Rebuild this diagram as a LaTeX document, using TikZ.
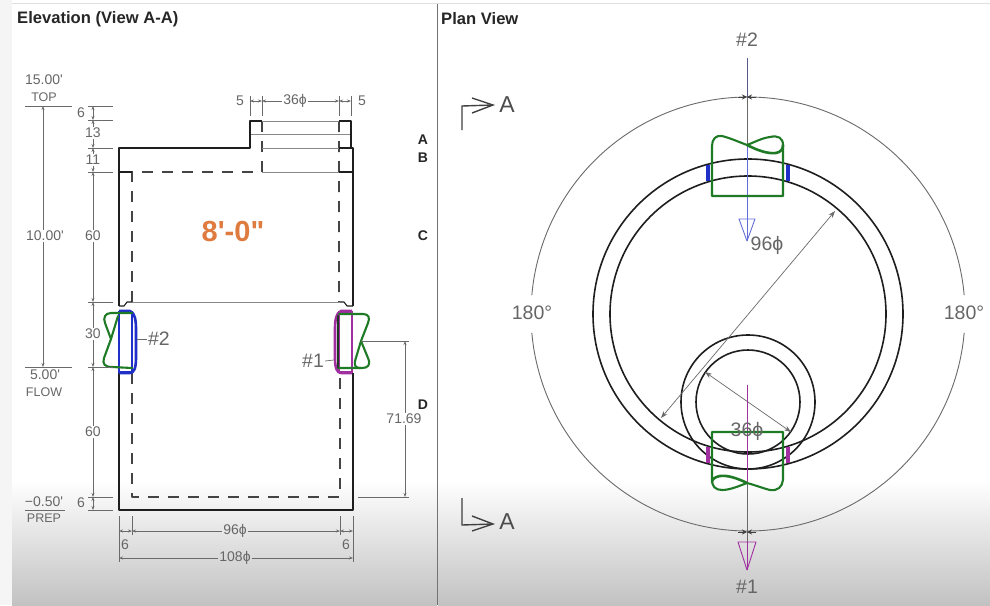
\documentclass[tikz,border=0pt]{standalone}
\usepackage{fontspec}
\setmainfont{Liberation Sans}
\newfontfamily\cadfont{Liberation Sans}
\newfontfamily\cadbold{Liberation Sans Bold}
\usetikzlibrary{arrows.meta}
\definecolor{dimc}{HTML}{6A6A6A}
\definecolor{txtc}{HTML}{666666}
\definecolor{wallc}{HTML}{1E1E1E}
\definecolor{hidc}{HTML}{444444}
\definecolor{strapc}{HTML}{1F7A26}
\definecolor{bluec}{HTML}{1F2FC8}
\definecolor{magc}{HTML}{A030A0}
\definecolor{orangec}{HTML}{DF7B3E}
\tikzset{
  x=1pt,y=-1pt,
  wall/.style={draw=wallc,line width=1.7pt,line join=round},
  hidden/.style={draw=hidc,line width=1.8pt,line join=round,dash pattern=on 11pt off 9pt},
  thin line/.style={draw=dimc!80,line width=.7pt},
  dimline/.style={draw=dimc,line width=.7pt},
  dimarrow/.style={dimline,{Stealth[length=4pt,width=3pt]}-{Stealth[length=4pt,width=3pt]}},
  endarrow/.style={dimline,-{Stealth[length=4pt,width=3pt]}},
  tick/.style={draw=dimc,line width=.8pt},
  strap/.style={draw=strapc,line width=2.1pt,line join=round,line cap=round},
  dimtext/.style={text=txtc,font=\cadfont\fontsize{14}{14}\selectfont,inner sep=1pt},
  smalltext/.style={text=txtc,font=\cadfont\fontsize{12.5}{12.5}\selectfont,inner sep=1pt},
  bigtext/.style={text=txtc,font=\cadfont\fontsize{19.5}{19.5}\selectfont,inner sep=1pt},
  title/.style={text=black!85,font=\bfseries\fontsize{16.6}{16.6}\selectfont,inner sep=0pt,anchor=west},
  sect/.style={text=black!85,font=\bfseries\fontsize{14}{14}\selectfont,inner sep=0pt},
  seclet/.style={font=\cadfont\fontsize{23}{23}\selectfont,text=black!70,inner sep=0pt},
  secmark/.style={draw=wallc!85,line width=1.4pt,line join=miter},
}
\begin{document}
\begin{tikzpicture}
\useasboundingbox (0,0) rectangle (990,605);
% paper and shaded bottom
\fill[white] (0,0) rectangle (990,605);
\fill[black!4] (0,0) rectangle (12,605);
\shade[top color=white,bottom color=black!24] (12,480) rectangle (437,605);
\shade[top color=white,bottom color=black!24] (438,480) rectangle (990,605);
\draw[draw=black!55,line width=1pt] (437.5,4) -- (437.5,605);
\draw[draw=black!12,line width=.6pt] (12,3) -- (990,3);

\node[title] (t1) at (17,19) {Elevation (View A-A)};
\node[title] (t2) at (441,19) {Plan View};

%% ===== Elevation =====
% hidden inner shell
\draw[hidden] (132,302) -- (132,172) -- (262,172) -- (262,121);
\draw[hidden] (339,121) -- (339.02,210) -- (339,302);
\draw[hidden] (132,373) -- (132,497) -- (340,497) -- (340,373);
% thin level lines
\draw[thin line] (262,121) -- (339,121);
\draw[thin line] (250,134) -- (351,134);
\draw[thin line] (262,148) -- (339,148);
\draw[thin line] (262,172) -- (339,172);
\draw[thin line] (132,302) -- (340,302);
% wall
\draw[wall] (119,306) -- (119,148) -- (250,148) -- (250,121) -- (262,121);
\draw[wall] (339,121) -- (351,121) -- (351,148) -- (353,148) -- (353,306);
\draw[wall] (119,373) -- (119,510) -- (353,510) -- (353,373);
\draw[wall,line width=1.2pt] (339,148) -- (351,148);
\draw[wall,line width=1.2pt] (339,172) -- (353,172) (119,172) -- (132,172);
% jogs
\draw[wall,line width=1.1pt] (119,306) -- (124,306) -- (127,302) -- (132,302);
\draw[wall,line width=1.1pt] (353,306) -- (347,306) -- (344,302) -- (340,302);

% pipe #2 left
\draw[bluec,line width=1.4pt] (119,312) rectangle (132,372);
\draw[bluec,line width=2.6pt,line join=round] (119,311) -- (130,311) .. controls (135,313) and (136,320) .. (136,330) -- (136,358) .. controls (136,368) and (134,373) .. (130,373) -- (119,373);
\draw[strap] (132,313) -- (111,313) .. controls (105,313) and (103,318) .. (105,323) -- (111,339) -- (118,316);
\draw[strap] (111,339) -- (104,358) .. controls (102,364) and (105,367) .. (112,367) -- (132,368);
% pipe #1 right
\draw[magc,line width=1.4pt] (339,312) rectangle (352,372);
\draw[magc,line width=2.6pt,line join=round] (352,311) -- (341,311) .. controls (336,313) and (335,320) .. (335,330) -- (335,358) .. controls (335,368) and (337,373) .. (341,373) -- (352,373);
\draw[strap,draw=wallc!70!strapc] (338,316) -- (338,368);
\draw[strap] (339,314) -- (363,314) .. controls (369,314) and (370,318) .. (368,323) -- (361,341) -- (355,361);
\draw[strap] (361,341) -- (368,358) .. controls (371,365) and (368,368) .. (362,368) -- (339,368);
\draw[strap] (355,361) .. controls (354,366) and (356,368) .. (360,368);

% left elevation dimensions
\node[dimtext] (l15) at (44,80) {15.00'};
\node[smalltext] (ltop) at (44,97) {TOP};
\node[dimtext] (l10) at (45,236) {10.00'};
\node[dimtext] (l5) at (45,375) {5.00'};
\node[smalltext] (lflow) at (44,392) {FLOW};
\node[dimtext] (lm) at (44,502) {−0.50'};
\node[smalltext] (lprep) at (44,518) {PREP};
\coordinate (topA) at (43,106);
\coordinate (flowA) at (43,367);
\draw[tick] (25,106) -- (72,106);
\draw[tick] (25,367) -- (72,367);
\draw[tick] (25,510) -- (65,510);
\draw[endarrow] (l10.north -| topA) -- (topA);
\draw[endarrow] (l10.south -| topA) -- (flowA);

% stacked dims at x=93
\foreach \yy in {106,120,148,172,302,367,497,510}{\draw[tick] (88,\yy) -- (113,\yy);}
\node[dimtext] (d6a) at (81,113) {6};
\node[dimtext] (d13) at (93,133) {13};
\node[dimtext] (d11) at (93,160) {11};
\node[dimtext] (d60a) at (93,236) {60};
\node[dimtext] (d30) at (93,334) {30};
\node[dimtext] (d60b) at (93,432) {60};
\node[dimtext] (d6b) at (81,503) {6};
\draw[dimarrow] (93,106) -- (93,120);
\draw[endarrow] (d13.north) -- (93,120);
\draw[endarrow] (d13.south) -- (93,148);
\draw[endarrow] (d11.north) -- (93,148);
\draw[endarrow] (d11.south) -- (93,172);
\draw[endarrow] (d60a.north) -- (93,172);
\draw[endarrow] (d60a.south) -- (93,302);
\draw[endarrow] (d30.north) -- (93,302);
\draw[endarrow] (d30.south) -- (93,367);
\draw[endarrow] (d60b.north) -- (93,367);
\draw[endarrow] (d60b.south) -- (93,497);
\draw[dimarrow] (93,497) -- (93,510);

% labels #
\node[bigtext] (h2e) at (159,339) {\#2};
\node[bigtext] (h1e) at (313,361) {\#1};
\draw[dimline] (137,339) -- (h2e.west);
\draw[dimline] (h1e.east) -- (334,360);

% top dims
\foreach \xx in {250,262,339,351}{\draw[tick] (\xx,96) -- (\xx,116);}
\node[dimtext] (t5a) at (240,101) {5};
\node[dimtext] (t36) at (295,101) {36ϕ};
\node[dimtext] (t5b) at (362,101) {5};
\draw[dimarrow] (250,101) -- (262,101);
\draw[endarrow] (t36.west) -- (262,101);
\draw[endarrow] (t36.east) -- (339,101);
\draw[dimarrow] (339,101) -- (351,101);

% bottom dims
\foreach \xx in {132,340}{\draw[tick] (\xx,516) -- (\xx,535);}
\foreach \xx in {119,353}{\draw[tick] (\xx,516) -- (\xx,562);}
\node[dimtext] (b96) at (235,531) {96ϕ};
\node[dimtext] (b108) at (235,558) {108ϕ};
\node[dimtext] (b6a) at (125,545) {6};
\node[dimtext] (b6b) at (346,545) {6};
\draw[dimarrow] (119,531) -- (132,531);
\draw[dimarrow] (340,531) -- (353,531);
\draw[endarrow] (b96.west) -- (132,531);
\draw[endarrow] (b96.east) -- (340,531);
\draw[endarrow] (b108.west) -- (119,558);
\draw[endarrow] (b108.east) -- (353,558);

% 71.69
\node[dimtext] (r71) at (404,419) {71.69};
\coordinate (r71x) at (405,341);
\draw[tick] (361,341) -- (409,341);
\draw[tick] (358,497) -- (409,497);
\draw[endarrow] (r71.north -| r71x) -- (r71x);
\draw[endarrow] (r71.south -| r71x) -- (405,497);

% section letters
\node[sect] (sA) at (423,140) {A};
\node[sect] (sB) at (423,158) {B};
\node[sect] (sC) at (423,236) {C};
\node[sect] (sD) at (423,405) {D};

\node[text=orangec,font=\cadbold\fontsize{29}{29}\selectfont,inner sep=0pt] (eight) at (233,232) {8'-0"};

%% ===== Plan =====
\coordinate (cc) at (748,314);
\coordinate (pc) at (748,402);
% 180 degree circle, broken at the labels
\draw[dimline,line width=.9pt] plot[domain=185:355,samples=90,smooth] ({748+217*cos(\x)},{314+217*sin(\x)});
\draw[dimline,line width=.9pt] plot[domain=175:5,samples=90,smooth] ({748+217*cos(\x)},{314+217*sin(\x)});
\node[bigtext] (a180l) at (532,313) {180°};
\node[bigtext] (a180r) at (964,313) {180°};
% tank circles
\draw[wallc,line width=1.6pt] (cc) circle[radius=155];
\draw[wallc,line width=1.6pt] (cc) circle[radius=138];
\draw[wallc,line width=1.6pt] (pc) circle[radius=67];
\draw[wallc,line width=1.6pt] (pc) circle[radius=52];
% diameters
\coordinate (d96a) at (661,418);
\coordinate (d96b) at (835,211);
\coordinate (d36a) at (705,372);
\coordinate (d36b) at (791,432);
\draw[dimline,{Stealth[length=7pt,width=5pt]}-{Stealth[length=7pt,width=5pt]}] (d96a) -- (d96b);
\draw[dimline,{Stealth[length=7pt,width=5pt]}-{Stealth[length=7pt,width=5pt]}] (d36a) -- (d36b);

% strips
\fill[bluec] (706,165) rectangle (710,181);
\fill[bluec] (786,165) rectangle (790,181);
\fill[magc] (706,447) rectangle (710,463);
\fill[magc] (786,447) rectangle (790,463);

% axis #2
\node[bigtext] (h2p) at (747,40) {\#2};
\coordinate (ax2t) at (747,58);
\coordinate (ax2) at (747,145);
\coordinate (tip2) at (747,241);
\draw[dimc!70!bluec,line width=1pt] (ax2t) -- (747,97);
\draw[dimc,line width=1pt] (747,97) -- (ax2);
\draw[bluec!70,line width=.8pt] (ax2) -- (tip2);
\draw[bluec!70,line width=.9pt,line join=round] (739,219) -- (755,219) -- (tip2) -- cycle;
% axis #1
\node[bigtext] (h1p) at (747,587) {\#1};
\coordinate (ax1) at (747,385);
\coordinate (ax1m) at (747,483);
\coordinate (tip1) at (747,570);
\draw[magc,line width=.8pt] (ax1) -- (ax1m);
\draw[dimc,line width=1pt] (ax1m) -- (747,542);
\draw[magc,line width=.8pt] (747,542) -- (tip1);
\draw[magc,line width=.9pt,line join=round] (738,542) -- (756,542) -- (tip1) -- cycle;
% ticks on outer circle
\tikzset{bow/.style={draw=wallc!85,line width=.8pt,-{Stealth[length=5pt,width=5pt]}}}
\draw[bow] (738,97) -- (747,97);
\draw[bow] (756,97) -- (747,97);
\draw[bow] (738,532) -- (747,532);
\draw[bow] (756,532) -- (747,532);

% top strap
\draw[strap] (712,196) -- (783,196) -- (783,145) .. controls (783,138) and (778,135) .. (770,137) .. controls (762,138) and (755,142) .. (747,145) .. controls (739,142) and (730,138) .. (722,136) .. controls (716,135) and (712,139) .. (712,146) -- cycle;
\draw[strap,line width=2.6pt] (747,145) .. controls (757,150) and (767,154) .. (776,153) .. controls (781,152) and (783,149) .. (783,145);
% bottom strap
\draw[strap] (712,432) -- (783,432) -- (783,480) .. controls (782,487) and (778,491) .. (770,490) .. controls (762,488) and (755,485) .. (747,483) .. controls (739,486) and (730,490) .. (722,490) .. controls (715,490) and (712,486) .. (712,480) -- cycle;
\draw[strap,line width=2.6pt] (747,483) .. controls (737,478) and (727,475) .. (720,476) .. controls (715,477) and (712,479) .. (712,482);

\node[bigtext] (l96) at (767,245) {96ϕ};
\node[bigtext] (l36) at (747,431) {36ϕ};

% section marks
\node[seclet] (a1) at (507,105) {A};
\node[seclet] (a2) at (507,522) {A};
\coordinate (tipA) at (493,105);
\coordinate (tipB) at (493,524);
\draw[secmark] (462,130) -- (462,106) -- (tipA);
\draw[secmark] (462,498) -- (462,525) -- (tipB);
\draw[secmark] (472,98) -- (tipA) -- (472,113);
\draw[secmark] (472,516) -- (tipB) -- (472,531);
\end{tikzpicture}
\end{document}
